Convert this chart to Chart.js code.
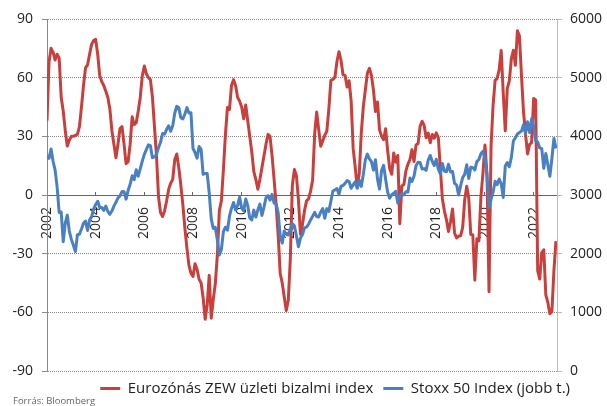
<!DOCTYPE html>
<html>
<head>
<meta charset="utf-8">
<script src="https://cdn.jsdelivr.net/npm/chart.js@4/dist/chart.umd.min.js"></script>
<style>
  html, body { margin: 0; padding: 0; background: #fff; }
  #wrap { width: 607px; height: 406px; }
</style>
</head>
<body>
<div id="wrap"><canvas id="chart"></canvas></div>
<script>
// havi adatok, 2002 jan - 2022 dec
const startYear = 2002;

const zew = [
  38, 68, 75, 73, 69, 72, 70, 50, 43, 33, 25, 28,
  30, 30, 30.5, 31, 35, 45, 56, 65, 66.5, 72, 77, 79,
  79.6, 72, 61, 58, 56, 53, 50, 44, 33, 26, 19, 26,
  34, 35, 26, 16, 17, 26, 40, 36, 37, 43, 50, 61,
  66, 62, 60, 59, 50, 35, 20, -1, -9, -11, -8, -3,
  3, 6, 8, 18, 21, 14, 5, -5, -17, -27, -36, -40,
  -41.7, -35.1, -38, -43, -45, -52.5, -63.5, -56.4, -41.1, -63, -53.5, -45.3,
  -31, -8, -3, 13, 31, 44.8, 43.8, 56, 59, 56, 50, 48,
  45, 39, 46, 38, 30, 22, 12, 8, 3, 8, 14, 20,
  26, 31, 30, 20, 8, -5, -20.3, -40, -45, -52, -59.1, -53.8,
  -32.5, 5, 13, 10, -2.4, -20.1, -15, -8, -3, -2, 2, 7.6,
  31.2, 42.4, 33.4, 24.9, 27.6, 30.6, 32.6, 44.0, 58.6, 59.1, 60.2, 68.3,
  73.3, 68.9, 61.5, 61.2, 55.2, 58.4, 48.1, 23.7, 14.2, 4.1, 11.0, 31.8,
  45.2, 53.7, 62.4, 64.8, 61.2, 53.7, 42.7, 47.6, 33.3, 30.1, 28.3, 33.9,
  22.7, 13.6, 10.6, 21.5, 16.8, 20.2, -14.7, 4.6, 5.4, 12.3, 15.8, 18.1,
  23.2, 17.1, 25.6, 26.3, 35.1, 37.7, 35.6, 29.3, 31.7, 26.7, 30.9, 29.0,
  31.8, 29.3, 13.4, -2.0, -8.2, -12.6, -18.7, -13.7, -7.2, -19.4, -22.0, -21.0,
  -20.9, -16.6, -2.5, 4.5, -1.6, -20.2, -20.3, -43.6, -22.4, -23.5, -1.0, 11.2,
  25.6, 10.4, -49.5, 25.2, 46.0, 58.6, 59.6, 64.0, 73.9, 52.3, 32.8, 54.4,
  58.3, 69.6, 74.0, 66.3, 84.0, 81.3, 61.2, 42.7, 31.1, 21.0, 25.9, 26.8,
  49.4, 48.6, -38.7, -43.0, -29.5, -28.0, -51.1, -54.9, -60.7, -59.7, -38.7, -23.6
];

const stoxx = [
  3670, 3625, 3784, 3574, 3426, 3133, 2702, 2709, 2204, 2519, 2657, 2386,
  2248, 2141, 2037, 2324, 2330, 2420, 2520, 2557, 2396, 2575, 2631, 2761,
  2839, 2893, 2787, 2788, 2737, 2811, 2720, 2671, 2726, 2811, 2876, 2951,
  2984, 3058, 3056, 2930, 3076, 3182, 3327, 3263, 3429, 3320, 3448, 3579,
  3692, 3775, 3854, 3840, 3637, 3649, 3692, 3808, 3900, 4047, 4038, 4120,
  4179, 4087, 4182, 4393, 4513, 4489, 4316, 4295, 4381, 4490, 4399, 4400,
  3792, 3724, 3628, 3826, 3777, 3353, 3367, 3365, 3038, 2592, 2430, 2448,
  2236, 1976, 2071, 2375, 2451, 2401, 2639, 2775, 2873, 2743, 2818, 2966,
  2776, 2729, 2931, 2816, 2610, 2574, 2742, 2623, 2748, 2845, 2651, 2793,
  2954, 2988, 2911, 3011, 2861, 2849, 2700, 2302, 2180, 2385, 2330, 2317,
  2416, 2512, 2477, 2306, 2118, 2265, 2326, 2441, 2454, 2503, 2575, 2636,
  2703, 2633, 2624, 2712, 2770, 2603, 2768, 2721, 2893, 3068, 3086, 3109,
  3013, 3149, 3162, 3198, 3245, 3228, 3116, 3172, 3226, 3114, 3251, 3146,
  3351, 3599, 3697, 3616, 3570, 3424, 3601, 3270, 3101, 3418, 3506, 3268,
  3045, 2946, 3005, 3028, 3063, 2865, 2990, 3023, 3002, 3055, 3052, 3291,
  3231, 3320, 3501, 3560, 3555, 3442, 3450, 3421, 3595, 3674, 3570, 3504,
  3609, 3439, 3362, 3536, 3406, 3396, 3525, 3393, 3399, 3198, 3173, 3001,
  3159, 3298, 3352, 3515, 3280, 3474, 3467, 3427, 3569, 3604, 3704, 3745,
  3640, 3329, 2787, 2928, 3050, 3234, 3174, 3273, 3194, 2958, 3493, 3553,
  3481, 3636, 3919, 3975, 4040, 4064, 4089, 4196, 4048, 4250, 4064, 4298,
  4175, 3924, 3903, 3803, 3789, 3455, 3708, 3517, 3319, 3618, 3965, 3794
];

const yearTicks = [2002, 2004, 2006, 2008, 2010, 2012, 2014, 2016, 2018, 2020, 2022];
const seriesNames = ["Eurozónás ZEW üzleti bizalmi index", "Stoxx 50 Index (jobb t.)"];
const sourceText = "Forrás: Bloomberg";

const font = '"Open Sans", "DejaVu Sans", sans-serif';
const padRight = 27;

function toPoints(values) {
    return values.map((v, i) => ({ x: startYear + i / 12, y: v }));
}

// forrás felirat + a jobb tengely címkéinek helye a kitöltésen túl
const sourcePlugin = {
    id: "source",
    afterLayout(chart) {
        chart.scales.y1.right = chart.width;
    },
    afterDraw(chart) {
        const ctx = chart.ctx;
        ctx.save();
        ctx.font = "9.5px " + font;
        ctx.fillStyle = "#666";
        ctx.textBaseline = "alphabetic";
        ctx.fillText(sourceText, 13, 404);
        ctx.restore();
    }
};

const ctx = document.getElementById("chart").getContext("2d");

new Chart(ctx, {
    type: "line",
    data: {
        datasets: [
            {
                label: seriesNames[0],
                data: toPoints(zew),
                yAxisID: "y",
                borderColor: "#c8403d",
                backgroundColor: "#c8403d",
                borderWidth: 3,
                pointRadius: 0,
                order: 1
            },
            {
                label: seriesNames[1],
                data: toPoints(stoxx),
                yAxisID: "y1",
                borderColor: "#4a80c2",
                backgroundColor: "#4a80c2",
                borderWidth: 3,
                pointRadius: 0,
                order: 0
            }
        ]
    },
    options: {
        responsive: true,
        maintainAspectRatio: false,
        animation: false,
        devicePixelRatio: 1,
        layout: {
            padding: { top: 19, right: padRight, bottom: 0, left: 0 }
        },
        elements: {
            line: { borderJoinStyle: "round", tension: 0 }
        },
        plugins: {
            tooltip: { enabled: false },
            legend: {
                position: "bottom",
                align: "end",
                labels: {
                    usePointStyle: true,
                    pointStyle: "line",
                    pointStyleWidth: 20,
                    padding: 10,
                    color: "#222",
                    font: { family: font, size: 15 },
                    sort: (a, b) => a.datasetIndex - b.datasetIndex
                }
            }
        },
        scales: {
            x: {
                type: "linear",
                position: { y: 0 },
                min: 2002,
                max: 2022.96,
                afterBuildTicks: scale => {
                    scale.ticks = yearTicks.map(v => ({ value: v }));
                },
                grid: {
                    drawOnChartArea: false,
                    drawTicks: true,
                    tickLength: -4,
                    color: "#666"
                },
                border: { display: true, color: "#666", width: 1 },
                ticks: {
                    autoSkip: false,
                    minRotation: 90,
                    maxRotation: 90,
                    padding: 16,
                    color: "#222",
                    font: { family: font, size: 14 },
                    callback: v => String(v)
                }
            },
            y: {
                position: "left",
                min: -90,
                max: 90,
                afterFit: scale => { scale.width = 47; },
                grid: {
                    color: "#8a8a8a",
                    drawTicks: true,
                    tickLength: 5
                },
                border: { display: true, color: "#888", dash: [1, 1] },
                ticks: {
                    stepSize: 30,
                    padding: 9,
                    color: "#222",
                    font: { family: font, size: 14 }
                }
            },
            y1: {
                position: "right",
                min: 0,
                max: 6000,
                afterFit: scale => { scale.width = 607 - padRight - 557; },
                grid: {
                    drawOnChartArea: false,
                    drawTicks: true,
                    tickLength: 5,
                    color: "#bbb"
                },
                border: { display: true, color: "#bbb" },
                ticks: {
                    stepSize: 1000,
                    padding: 8,
                    color: "#222",
                    font: { family: font, size: 14 },
                    callback: v => String(v)
                }
            }
        }
    },
    plugins: [sourcePlugin]
});
</script>
</body>
</html>
